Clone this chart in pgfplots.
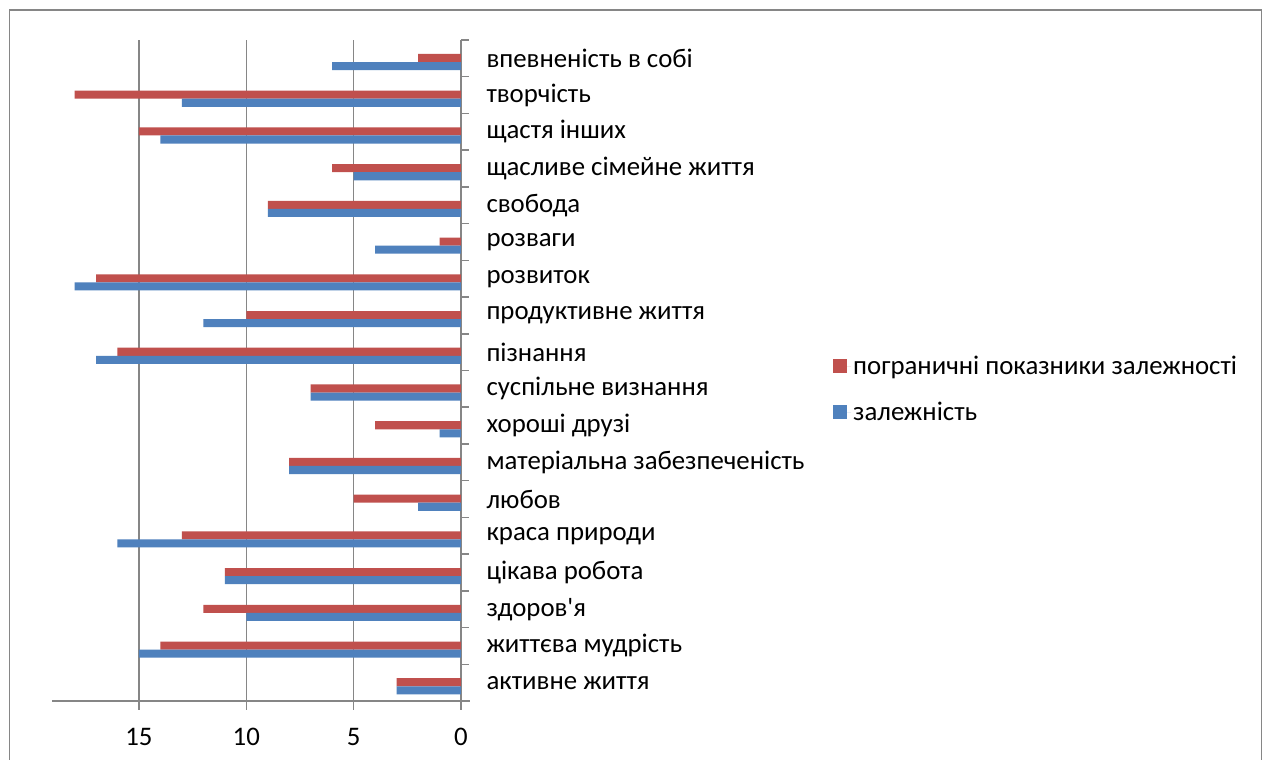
\documentclass[border=0pt]{standalone}
\usepackage{fontspec}
\setmainfont{Carlito}[Ligatures=TeXOff]
\usepackage{pgfplots}
\pgfplotsset{compat=1.18}
\definecolor{cred}{RGB}{192,80,77}
\definecolor{cblue}{RGB}{79,129,189}
\definecolor{cgrid}{RGB}{134,134,134}
\begin{document}
\begin{tikzpicture}[x=1pt,y=1pt]
\useasboundingbox (0,0) rectangle (1267,760);
\fill[white] (0,0) rectangle (1267,760);
\draw[cgrid, line width=1.6pt] (9.5,-20) rectangle (1261.5,750);
\begin{axis}[
  at={(52pt,59pt)}, anchor=south west,
  width=409pt, height=661pt, scale only axis,
  font=\fontsize{26.8pt}{32pt}\selectfont,
  /pgf/number format/assume math mode=true,
  xbar, bar width=0.22,
  x dir=reverse,
  xmin=0, xmax=19.05, ymin=-0.5, ymax=17.5,
  axis x line*=bottom, axis y line*=right,
  axis line style={cgrid, line width=1.5pt},
  x axis line style={shorten <=-9pt},
  xtick={0,5,10,15},
  xmajorgrids, grid style={cgrid, line width=1.5pt},
  tick align=outside,
  major tick length=9pt, minor tick length=8pt,
  tick style={cgrid, line width=1.5pt},
  ytick={0,...,17},
  major y tick style={draw=none},
  minor ytick={-0.5,0.5,...,17.5},
  yticklabel pos=right,
  yticklabels={активне життя, життєва мудрість, здоров'я, цікава робота, краса природи, любов, матеріальна забезпеченість, хороші друзі, суспільне визнання, пізнання, продуктивне життя, розвиток, розваги, свобода, щасливе сімейне життя, щастя інших, творчість, впевненість в собі},
  yticklabel style={anchor=west, xshift=13pt},
  xticklabel style={yshift=-15pt},
  legend style={at={(axis description cs:1.9095,0.4713)}, anchor=west, draw=none, fill=none, inner sep=0pt, row sep=22pt, font=\fontsize{26.8pt}{32pt}\selectfont},
  legend cell align=left,
  legend image code/.code={\fill[#1] (0pt,-7pt) rectangle (14pt,7pt); \path (0pt,0pt) -- (18pt,0pt);},
]
\addplot[fill=cred, draw=none, bar shift=0.01] coordinates {
(3,0) (14,1) (12,2) (11,3) (13,4) (5,5) (8,6) (4,7) (7,8) (16,9) (10,10) (17,11) (1,12) (9,13) (6,14) (15,15) (18,16) (2,17)};
\addlegendentry{пограничні показники залежності}
\addplot[fill=cblue, draw=none, bar shift=-0.21] coordinates {
(3,0) (15,1) (10,2) (11,3) (16,4) (2,5) (8,6) (1,7) (7,8) (17,9) (12,10) (18,11) (4,12) (9,13) (5,14) (14,15) (13,16) (6,17)};
\addlegendentry{залежність}
\end{axis}
\end{tikzpicture}
\end{document}
